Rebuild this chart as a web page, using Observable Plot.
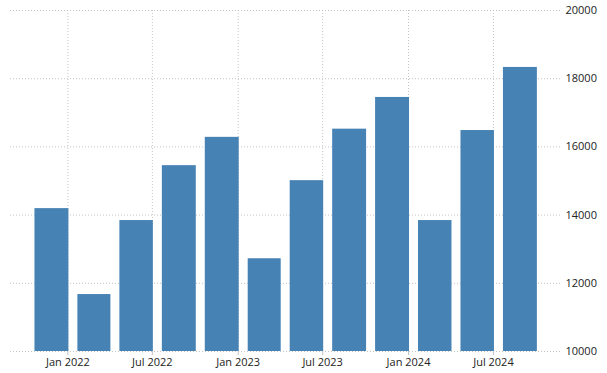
<!DOCTYPE html>
<html>
<head>
<meta charset="utf-8">
<script src="https://cdn.jsdelivr.net/npm/d3@7"></script>
<script src="https://cdn.jsdelivr.net/npm/@observablehq/plot@0.6"></script>
<style>
  html, body { margin: 0; padding: 0; background: #fff; }
  #chart svg { display: block; }
</style>
</head>
<body>
<div id="chart"></div>
<script>
const quarters = [
  "2021-10-01","2022-01-01","2022-04-01","2022-07-01",
  "2022-10-01","2023-01-01","2023-04-01","2023-07-01",
  "2023-10-01","2024-01-01","2024-04-01","2024-07-01"
];
const values = [14190, 11670, 13840, 15450, 16280, 12720, 15010, 16520, 17450, 13840, 16480, 18330];
const yTicks = [10000, 12000, 14000, 16000, 18000, 20000];
const xTickDates = ["2022-01-01", "2022-07-01", "2023-01-01", "2023-07-01", "2024-01-01", "2024-07-01"];
const xDomain = ["2021-08-31", "2024-11-26"];
const yDomain = [10000, 20000];

const toDate = s => new Date(s + "T00:00:00Z");
const data = quarters.map((q, i) => {
  const start = toDate(q);
  return { start, end: d3.utcMonth.offset(start, 3), value: values[i] };
});
const xTicks = xTickDates.map(toDate);

const gridStyle = { stroke: "#c4c4c4", strokeOpacity: 1, strokeDasharray: "1,2" };

const chart = Plot.plot({
  width: 607,
  height: 373,
  marginTop: 10,
  marginBottom: 22,
  marginLeft: 10,
  marginRight: 45,
  style: { fontFamily: "'Open Sans', 'Liberation Sans', Arial, sans-serif", fontSize: "11px", color: "#222", background: "#fff" },
  x: { type: "utc", domain: xDomain.map(toDate) },
  y: { domain: yDomain },
  marks: [
    Plot.gridY(yTicks, gridStyle),
    Plot.gridX(xTicks, gridStyle),
    Plot.rectY(data, { x1: "start", x2: "end", y: "value", fill: "#4682b4", insetLeft: 10, insetRight: -1, clip: true }),
    Plot.axisX(xTicks, { tickSize: 4, tickPadding: 3, stroke: "#c4c4c4", tickFormat: d3.utcFormat("%b %Y"), fill: "#222", label: null }),
    Plot.axisY(yTicks, { anchor: "right", tickSize: 0, tickPadding: 3, tickFormat: d3.format("d"), fill: "#222", label: null })
  ]
});
document.getElementById("chart").append(chart);
</script>
</body>
</html>
